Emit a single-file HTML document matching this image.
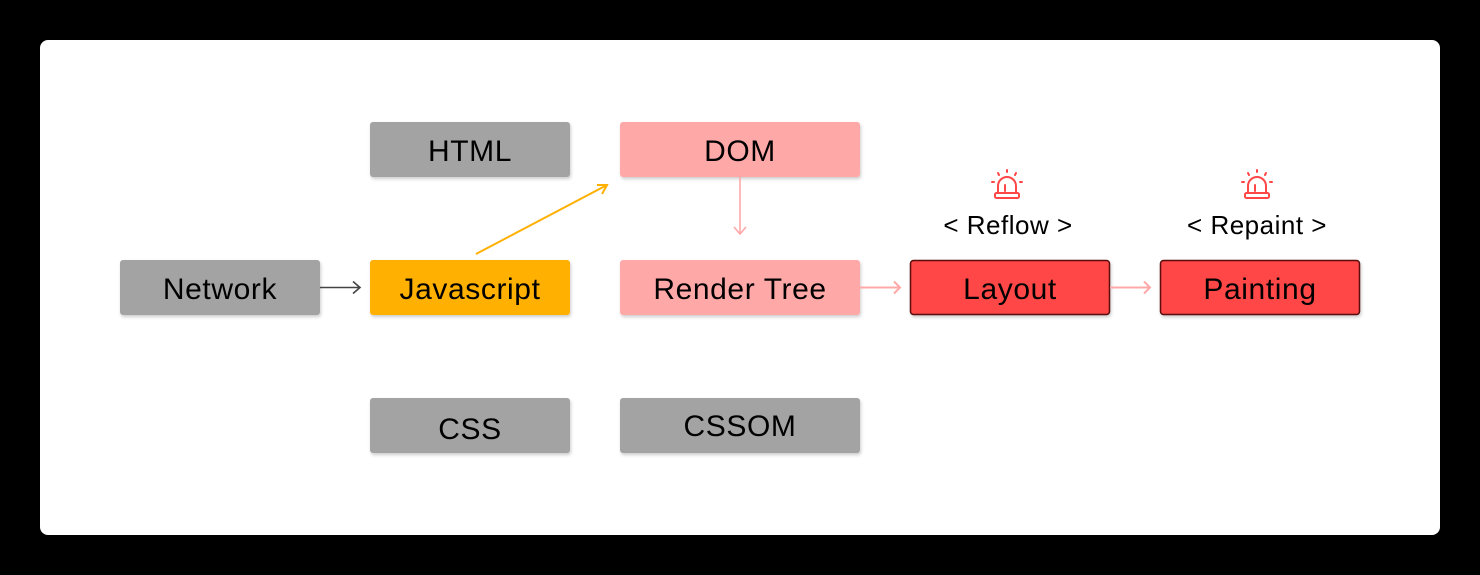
<!DOCTYPE html>
<html><head><meta charset="utf-8"><style>
html,body{margin:0;padding:0;background:#000;width:1480px;height:575px;overflow:hidden}
svg{display:block}
text{font-family:"Liberation Sans",sans-serif;fill:#000}
</style></head><body>
<svg width="1480" height="575" viewBox="0 0 1480 575" xmlns="http://www.w3.org/2000/svg">
<defs>
<filter id="sh" x="-10%" y="-20%" width="120%" height="150%"><feDropShadow dx="1" dy="2" stdDeviation="1.5" flood-color="#000" flood-opacity="0.2"/></filter>
</defs>
<rect x="40" y="40" width="1400" height="495" rx="8" fill="#fff"/>
<g filter="url(#sh)">
<rect x="120" y="260" width="200" height="55" rx="3" fill="#a3a3a3"/>
<rect x="370" y="260" width="200" height="55" rx="3" fill="#ffb000"/>
<rect x="370" y="122" width="200" height="55" rx="3" fill="#a3a3a3"/>
<rect x="620" y="122" width="240" height="55" rx="3" fill="#ffa8a8"/>
<rect x="620" y="260" width="240" height="55" rx="3" fill="#ffa8a8"/>
<rect x="370" y="398" width="200" height="55" rx="3" fill="#a3a3a3"/>
<rect x="620" y="398" width="240" height="55" rx="3" fill="#a3a3a3"/>
<rect x="910.5" y="260.5" width="199" height="54" rx="3" fill="#ff4747" stroke="#5a0a0a" stroke-width="1.5"/>
<rect x="1160.5" y="260.5" width="199" height="54" rx="3" fill="#ff4747" stroke="#5a0a0a" stroke-width="1.5"/>
</g>
<g font-size="30" text-anchor="middle" letter-spacing="0.6">
<text x="220" y="299">Network</text>
<text x="470" y="299">Javascript</text>
<text x="470" y="161">HTML</text>
<text x="740" y="161">DOM</text>
<text x="740" y="299">Render Tree</text>
<text x="470" y="439">CSS</text>
<text x="740" y="436">CSSOM</text>
<text x="1010" y="299">Layout</text>
<text x="1260" y="299">Painting</text>
</g>
<g font-size="26" text-anchor="middle" letter-spacing="0.5">
<text x="1008" y="234">&lt; Reflow &gt;</text>
<text x="1257" y="234">&lt; Repaint &gt;</text>
</g>
<g fill="none" stroke-width="1.6">
<path d="M320 287.5H360M353 281.5L360 287.5L353 293.5" stroke="#444"/>
<path d="M476 254L607 185M597 185L607 185L602 194" stroke="#ffb000" stroke-width="2"/>
<path d="M740 177V234M734 227L740 234L746 227" stroke="#ffa8a8"/>
<path d="M860 287.5H900M894 281.5L900 287.5L894 293.5" stroke="#ffa8a8" stroke-width="2"/>
<path d="M1110 287.5H1150M1144 281.5L1150 287.5L1144 293.5" stroke="#ffa8a8" stroke-width="2"/>
</g>
<g fill="none" stroke="#ff4747" stroke-width="2" stroke-linecap="round">
<g transform="translate(1007,0)">
<path d="M-9 193V186A9 9 0 0 1 9 186V193"/><path d="M-2 191V185"/>
<rect x="-12" y="193" width="24" height="5" rx="1.5"/>
<path d="M0 170V172M-9 173L-8 175M9 173L8 175M-15 182H-13M13 182H15"/>
</g>
<g transform="translate(1257,0)">
<path d="M-9 193V186A9 9 0 0 1 9 186V193"/><path d="M-2 191V185"/>
<rect x="-12" y="193" width="24" height="5" rx="1.5"/>
<path d="M0 170V172M-9 173L-8 175M9 173L8 175M-15 182H-13M13 182H15"/>
</g>
</g>
</svg>
</body></html>
